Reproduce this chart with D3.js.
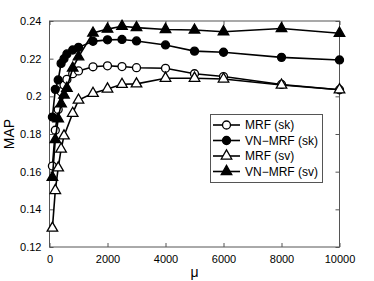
<!DOCTYPE html>
<html>
<head>
<meta charset="utf-8">
<script src="https://cdn.jsdelivr.net/npm/d3@7"></script>
<style>
  body { margin: 0; background: #fff; }
  svg { font-family: "Liberation Sans", Arial, sans-serif; }
</style>
</head>
<body>
<script>
var width = 374,
    height = 281;

// mu values on the x axis
var mu = [100, 200, 300, 400, 500, 600, 800, 1000, 1500, 2000, 2500, 3000, 4000, 5000, 6000, 8000, 10000];

// MAP values per series (null = no point there)
var mrfSk   = [0.163, 0.182, 0.193, 0.2025, 0.206, 0.209, 0.212, 0.2135, 0.2157, 0.2162, 0.2158, 0.2152, 0.2149, 0.212, 0.2105, 0.2063, 0.2035];
var vnMrfSk = [0.189, 0.2037, 0.2087, 0.2175, 0.220, 0.2225, 0.2246, 0.226, 0.2292, 0.2300, 0.2302, 0.2294, 0.2273, 0.224, 0.2234, 0.2207, 0.2193];
var mrfSv   = [0.130, 0.150, 0.162, 0.172, 0.179, null, 0.191, 0.198, 0.2016, 0.2039, 0.2064, 0.2066, 0.2096, 0.2096, 0.2092, 0.206, 0.2035];
var vnMrfSv = [0.157, 0.177, 0.188, 0.196, 0.2007, 0.2043, 0.215, 0.221, 0.2336, 0.2357, 0.2372, 0.2365, 0.2355, 0.2352, 0.2343, 0.236, 0.2335];

var seriesNames = ["MRF (sk)", "VN\u2212MRF (sk)", "MRF (sv)", "VN\u2212MRF (sv)"];

var xTicks = [0, 2000, 4000, 6000, 8000, 10000];
var yTicks = [0.12, 0.14, 0.16, 0.18, 0.2, 0.22, 0.24];

var series = [
  {name: seriesNames[0], vals: mrfSk,   shape: "circle",   fill: "#fff"},
  {name: seriesNames[1], vals: vnMrfSk, shape: "circle",   fill: "#000"},
  {name: seriesNames[2], vals: mrfSv,   shape: "triangle", fill: "#fff"},
  {name: seriesNames[3], vals: vnMrfSv, shape: "triangle", fill: "#000"}
];

var pLeft = 49.5, pRight = 339.5, pTop = 21, pBottom = 247;

var x = d3.scaleLinear().domain([0, 10000]).range([pLeft, pRight]);
var y = d3.scaleLinear().domain([0.12, 0.24]).range([pBottom, pTop]);

var svg = d3.select("body").append("svg")
    .attr("width", width)
    .attr("height", height);

// frame
svg.append("rect")
    .attr("x", pLeft).attr("y", pTop)
    .attr("width", pRight - pLeft).attr("height", pBottom - pTop)
    .attr("fill", "none").attr("stroke", "#555").attr("stroke-width", 1);

var tl = 4;
// axes, ticks inward
svg.append("g")
    .attr("transform", "translate(0," + pBottom + ")")
    .call(d3.axisBottom(x).tickValues(xTicks).tickSizeInner(-tl).tickSizeOuter(0).tickPadding(8).tickFormat(d3.format("d")))
    .call(g => g.select(".domain").remove());
svg.append("g")
    .attr("transform", "translate(0," + pTop + ")")
    .call(d3.axisTop(x).tickValues(xTicks).tickSizeInner(-tl).tickSizeOuter(0).tickFormat(""))
    .call(g => g.select(".domain").remove());
svg.append("g")
    .attr("transform", "translate(" + pLeft + ",0)")
    .call(d3.axisLeft(y).tickValues(yTicks).tickSizeInner(-tl).tickSizeOuter(0).tickPadding(8).tickFormat(d => String(+d.toFixed(2))))
    .call(g => g.select(".domain").remove());
svg.append("g")
    .attr("transform", "translate(" + pRight + ",0)")
    .call(d3.axisRight(y).tickValues(yTicks).tickSizeInner(-tl).tickSizeOuter(0).tickFormat(""))
    .call(g => g.select(".domain").remove());

svg.selectAll(".tick line").attr("stroke", "#555");
svg.selectAll(".tick text")
    .attr("font-family", "Liberation Sans, Arial, sans-serif")
    .attr("font-size", 11)
    .attr("fill", "#000");

// axis titles
svg.append("text")
    .attr("transform", "translate(14," + (pTop + pBottom) / 2 + ") rotate(-90)")
    .attr("text-anchor", "middle")
    .attr("font-size", 14)
    .text("MAP");
svg.append("text")
    .attr("x", (pLeft + pRight) / 2).attr("y", 277)
    .attr("text-anchor", "middle")
    .attr("font-size", 14)
    .text("\u03bc");

var line = d3.line().x(d => x(d[0])).y(d => y(d[1]));
var tri = d3.symbol().type(d3.symbolTriangle).size(48);
var circ = d3.symbol().type(d3.symbolCircle).size(50);

function drawMarker(g, s) {
  g.append("path")
      .attr("d", s.shape == "circle" ? circ() : tri())
      .attr("fill", s.fill)
      .attr("stroke", "#000")
      .attr("stroke-width", 1.3);
}

series.forEach(function(s) {
  var pts = mu.map((m, i) => [m, s.vals[i]]).filter(d => d[1] != null);
  svg.append("path")
      .datum(pts)
      .attr("fill", "none")
      .attr("stroke", "#000")
      .attr("stroke-width", 1.6)
      .attr("d", line);
  pts.forEach(function(p) {
    var g = svg.append("g").attr("transform", "translate(" + x(p[0]) + "," + y(p[1]) + ")");
    drawMarker(g, s);
  });
});

// legend
var lg = svg.append("g");
lg.append("rect")
    .attr("x", 210.5).attr("y", 114.5)
    .attr("width", 112).attr("height", 68)
    .attr("fill", "#fff").attr("stroke", "#555");
series.forEach(function(s, i) {
  var ly = 125 + i * 15.5;
  lg.append("line")
      .attr("x1", 213).attr("x2", 240)
      .attr("y1", ly).attr("y2", ly)
      .attr("stroke", "#000").attr("stroke-width", 1.6);
  var g = lg.append("g").attr("transform", "translate(226.5," + ly + ")");
  drawMarker(g, s);
  lg.append("text")
      .attr("x", 245).attr("y", ly + 4)
      .attr("font-size", 12)
      .text(s.name);
});
</script>
</body>
</html>
